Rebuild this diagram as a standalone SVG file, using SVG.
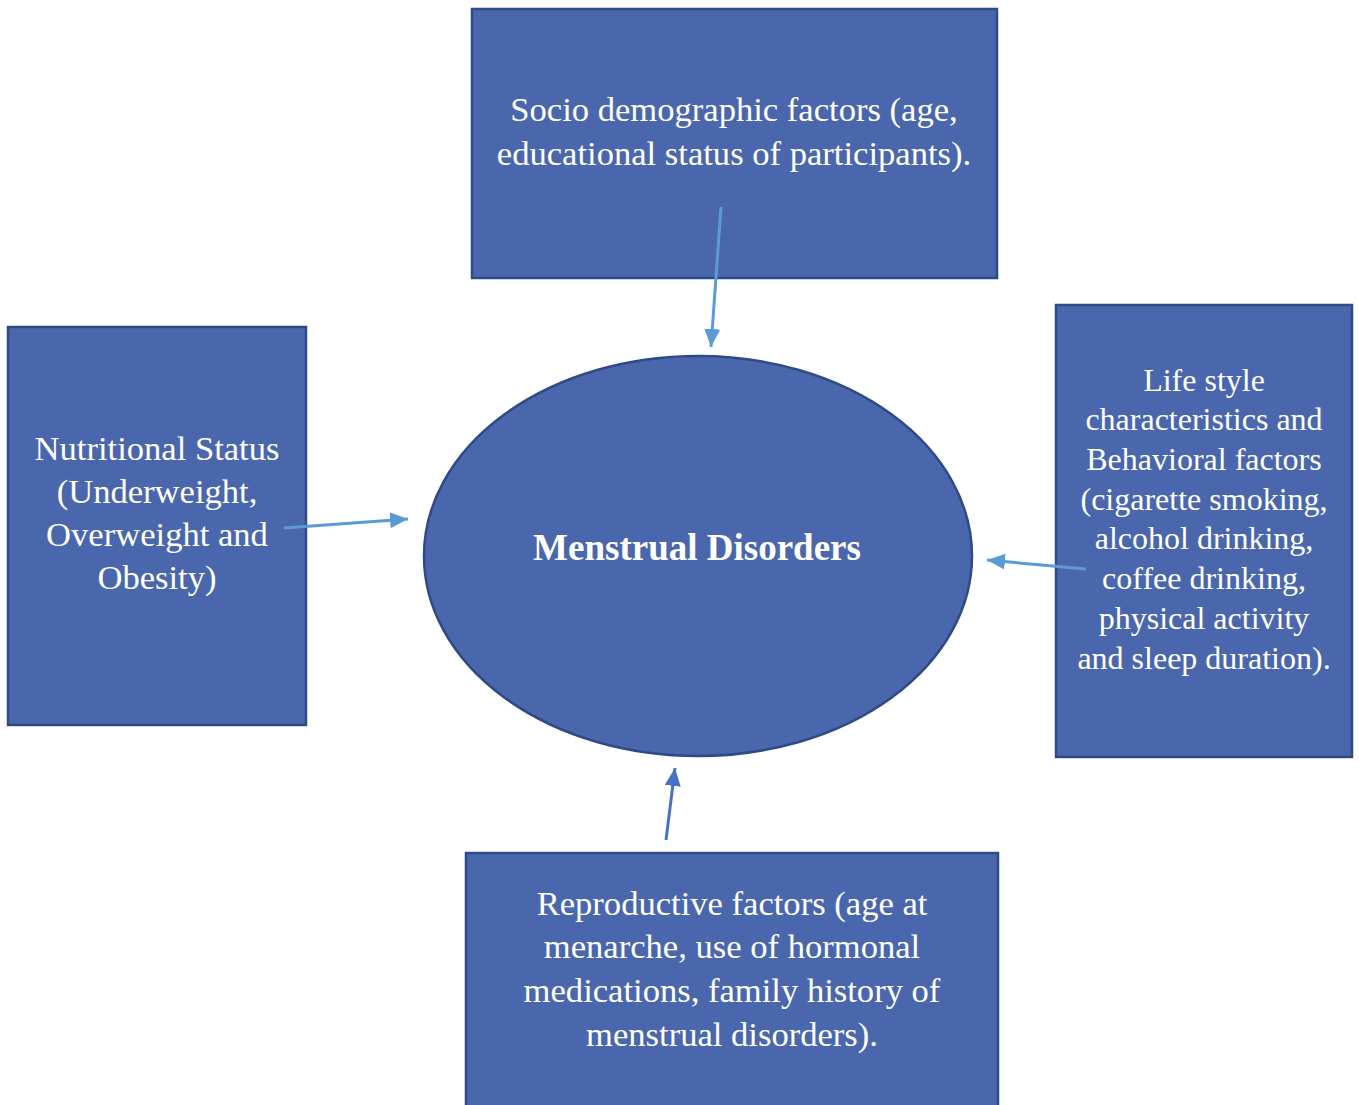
<svg xmlns="http://www.w3.org/2000/svg" width="1359" height="1105" viewBox="0 0 1359 1105">
<style>
.box{fill:#4a67ad;stroke:#2f4b84;stroke-width:2.5}
.t{font-family:"Liberation Serif","Times New Roman",serif;font-size:34.6px;fill:#ffffff;text-anchor:middle}
.s{font-size:32px}
.b{font-weight:bold;font-size:37px}
.c1{stroke:#5b9bd5;stroke-width:3;fill:none}
.c2{stroke:#4472c4;stroke-width:3;fill:none}
</style>
<defs>
<marker id="a1" markerUnits="userSpaceOnUse" markerWidth="20" markerHeight="16" refX="18" refY="8" orient="auto"><path d="M0,0 L18,8 L0,16 Z" fill="#5b9bd5"/></marker>
<marker id="a2" markerUnits="userSpaceOnUse" markerWidth="20" markerHeight="16" refX="18" refY="8" orient="auto"><path d="M0,0 L18,8 L0,16 Z" fill="#4472c4"/></marker>
</defs>
<rect width="1359" height="1105" fill="#ffffff"/>
<g id="node-socio">
<rect class="box" x="472" y="9" width="525" height="269"/>
<text class="t" x="734" y="121">Socio demographic factors (age,</text>
<text class="t" x="734" y="165">educational status of participants).</text>
</g>
<g id="node-nutrition">
<rect class="box" x="8" y="327" width="298" height="398"/>
<text class="t" x="157" y="460">Nutritional Status</text>
<text class="t" x="157" y="503">(Underweight,</text>
<text class="t" x="157" y="546">Overweight and</text>
<text class="t" x="157" y="589">Obesity)</text>
</g>
<g id="node-lifestyle">
<rect class="box" x="1056" y="305" width="296" height="452"/>
<text class="t s" x="1204" y="391">Life style</text>
<text class="t s" x="1204" y="430">characteristics and</text>
<text class="t s" x="1204" y="470">Behavioral factors</text>
<text class="t s" x="1204" y="510">(cigarette smoking,</text>
<text class="t s" x="1204" y="549">alcohol drinking,</text>
<text class="t s" x="1204" y="589">coffee drinking,</text>
<text class="t s" x="1204" y="629">physical activity</text>
<text class="t s" x="1204" y="669">and sleep duration).</text>
</g>
<g id="node-reproductive">
<rect class="box" x="466" y="853" width="532" height="260"/>
<text class="t" x="732" y="915">Reproductive factors (age at</text>
<text class="t" x="732" y="958">menarche, use of hormonal</text>
<text class="t" x="732" y="1002">medications, family history of</text>
<text class="t" x="732" y="1046">menstrual disorders).</text>
</g>
<g id="node-center">
<ellipse class="box" cx="698" cy="556" rx="274" ry="200"/>
<text class="t b" x="697" y="560">Menstrual Disorders</text>
</g>
<g id="connectors">
<line class="c1" x1="721" y1="207" x2="711" y2="347" marker-end="url(#a1)"/>
<line class="c1" x1="284" y1="528" x2="408" y2="519" marker-end="url(#a1)"/>
<line class="c1" x1="1086" y1="569" x2="987" y2="560" marker-end="url(#a1)"/>
<line class="c2" x1="666" y1="840" x2="675" y2="768" marker-end="url(#a2)"/>
</g>
</svg>
